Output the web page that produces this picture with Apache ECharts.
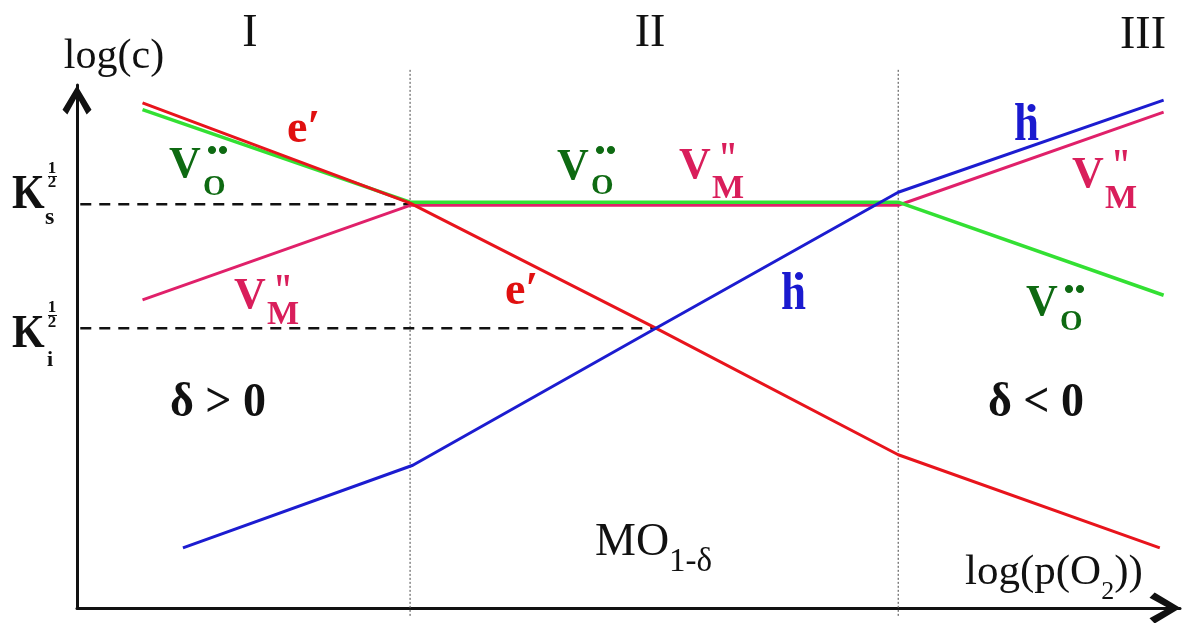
<!DOCTYPE html>
<html><head><meta charset="utf-8">
<script src="https://cdn.jsdelivr.net/npm/echarts@6/dist/echarts.min.js"></script>
<style>html,body{margin:0;padding:0;background:#fff}#c{width:1182px;height:623px}</style>
</head><body><div id="c"></div>
<script>
// ---- data (x: log p(O2), y: log c, arbitrary units) ----
const regionBounds = [6.1, 15.04];
const regionNames = ['I', 'II', 'III'];
const electrons   = [[1.2, 9.66], [6.1, 7.74], [10.6, 5.35], [15.04, 2.93], [19.83, 1.15]];
const holes       = [[1.94, 1.15], [6.15, 2.73], [10.6, 5.35], [15.04, 7.95], [19.9, 9.71]];
const oxygenVac   = [[1.2, 9.53], [6.1, 7.76], [15.04, 7.76], [19.9, 5.98]];
const metalVac    = [[1.2, 5.89], [6.1, 7.70], [15.04, 7.70], [19.9, 9.48]];
const ksLevel = 7.72;
const kiLevel = 5.35;
const ksExtent = [0.06, 6.1];
const kiExtent = [0.06, 10.6];
const boundaryExtent = [-0.15, 10.29];
const xRange = [0, 20.2];
const yRange = [0, 10];

// ---- styles ----
const SERIF = '"Liberation Serif","Times New Roman",serif';
const C = {red: '#e8141c', green: '#33e033', mag: '#e0206a', blue: '#1c1cd0',
           redT: '#e01010', greenT: '#0e6a12', magT: '#d91e5b', blueT: '#1a1acf', ink: '#111'};
const mctx = document.createElement('canvas').getContext('2d');
function fontStr(size, bold) { return (bold ? 'bold ' : '') + size + 'px ' + SERIF; }
function tw(text, size, bold) { mctx.font = fontStr(size, bold); return mctx.measureText(text).width; }
function T(text, x, y, size, color, opt) {
  opt = opt || {};
  return {type: 'text', x: x, y: y, scaleY: opt.sy || 1, z: 100, silent: true,
    style: {text: text, font: fontStr(size, opt.bold), fill: color,
      textAlign: opt.align || 'left', textVerticalAlign: 'middle'}};
}
function L(x1, y1, x2, y2, w) {
  return {type: 'line', z: 100, silent: true, shape: {x1: x1, y1: y1, x2: x2, y2: y2}, style: {stroke: C.ink, lineWidth: w}};
}
const B = {bold: true};
const g = [];
// region names
g.push(T(regionNames[0], 250, 34, 46, C.ink, {align: 'center'}));
g.push(T(regionNames[1], 650, 34, 46, C.ink, {align: 'center'}));
g.push(T(regionNames[2], 1143, 36, 46, C.ink, {align: 'center'}));
// axis titles
g.push(T('log(c)', 114, 57, 42, C.ink, {align: 'center'}));
(function () {
  let x = 965;
  g.push(T('log(p(O', x, 573, 43, C.ink)); x += tw('log(p(O', 43);
  g.push(T('2', x, 592, 26, C.ink)); x += tw('2', 26);
  g.push(T('))', x, 573, 43, C.ink));
})();
// K labels
g.push(T('K', 12, 196, 42, C.ink, {bold: true, sy: 1.15}));
g.push(T('s', 45, 218, 24, C.ink, B));
g.push(T('1', 52, 169, 17, C.ink, {bold: true, align: 'center'}));
g.push(T('2', 52, 183, 17, C.ink, {bold: true, align: 'center'}));
g.push(L(48, 176.5, 57, 176.5, 1));
g.push(T('K', 12, 335, 42, C.ink, {bold: true, sy: 1.08}));
g.push(T('i', 47, 360, 22, C.ink, B));
g.push(T('1', 52, 308, 17, C.ink, {bold: true, align: 'center'}));
g.push(T('2', 52, 322.5, 17, C.ink, {bold: true, align: 'center'}));
g.push(L(48, 315.5, 57, 315.5, 1));
// V_O labels
function VO(x, yV, yO, yD) {
  g.push(T('V', x, yV, 44, C.greenT, B));
  g.push(T('O', x + 34, yO, 29, C.greenT, B));
  g.push(T('•', x + 43, yD, 30, C.greenT, {bold: true, align: 'center'}));
  g.push(T('•', x + 54, yD, 30, C.greenT, {bold: true, align: 'center'}));
}
VO(169, 166, 188, 152);
VO(557, 168, 187, 152);
VO(1026, 304, 322.5, 291);
// V_M labels
function VM(x, yV, yQ, yM) {
  g.push(T('V', x, yV, 44, C.magT, B));
  g.push(T('"', x + 39, yQ, 36, C.magT, {bold: true, sy: 1.3}));
  g.push(T('M', x + 33, yM, 34, C.magT, B));
}
VM(234, 297, 294, 315);
VM(679, 167, 162, 189);
VM(1072, 176, 169, 199);
// e' labels
g.push(T('e\u2032', 287, 130, 46, C.redT, B));
g.push(T('e\u2032', 505, 292, 46, C.redT, B));
// h labels
g.push(T('h', 781, 296, 45, C.blueT, {bold: true, sy: 1.15}));
g.push(T('•', 799, 278, 30, C.blueT, {bold: true, align: 'center'}));
g.push(T('h', 1014, 127, 45, C.blueT, {bold: true, sy: 1.15}));
g.push(T('•', 1031.5, 110, 30, C.blueT, {bold: true, align: 'center'}));
// delta labels
g.push(T('δ > 0', 218, 404, 46, C.ink, {bold: true, align: 'center', sy: 1.05}));
g.push(T('δ < 0', 1036, 404, 46, C.ink, {bold: true, align: 'center', sy: 1.05}));
// MO_{1-δ}
(function () {
  const x = 595;
  g.push(T('MO', x, 543, 46, C.ink));
  g.push(T('1-δ', x + tw('MO', 46), 562, 33, C.ink));
})();

const arrowPath = 'path://M15,0 L30,25 L25,30 L15,12 L5,30 L0,25 Z';
function lineSeries(name, data, color, width, z, type) {
  return {name: name, type: 'line', data: data, symbol: 'none', smooth: false, clip: false, z: z,
    lineStyle: {color: color, width: width, type: type || 'solid'}, emphasis: {disabled: true}};
}
const option = {
  animation: false,
  backgroundColor: '#fff',
  grid: {left: 77, right: 2, top: 85, bottom: 15, containLabel: false},
  xAxis: {type: 'value', min: xRange[0], max: xRange[1],
    axisLine: {show: true, onZero: false, symbol: ['none', arrowPath], symbolSize: [31, 31], symbolOffset: [0, -15],
      lineStyle: {color: C.ink, width: 3}},
    axisTick: {show: false}, axisLabel: {show: false}, splitLine: {show: false}},
  yAxis: {type: 'value', min: yRange[0], max: yRange[1],
    axisLine: {show: true, onZero: false, symbol: ['none', arrowPath], symbolSize: [29, 30], symbolOffset: [0, -15],
      lineStyle: {color: C.ink, width: 3}},
    axisTick: {show: false}, axisLabel: {show: false}, splitLine: {show: false}},
  series: [
    lineSeries('b1', [[regionBounds[0], boundaryExtent[0]], [regionBounds[0], boundaryExtent[1]]], '#666', 1.2, 1, [2, 2]),
    lineSeries('b2', [[regionBounds[1], boundaryExtent[0]], [regionBounds[1], boundaryExtent[1]]], '#666', 1.2, 1, [2, 2]),
    lineSeries('Ks', [[ksExtent[0], ksLevel], [ksExtent[1], ksLevel]], C.ink, 2.5, 2, [11, 8]),
    lineSeries('Ki', [[kiExtent[0], kiLevel], [kiExtent[1], kiLevel]], C.ink, 2.5, 2, [11, 8]),
    lineSeries("V_M''", metalVac, C.mag, 3, 3),
    lineSeries('V_O••', oxygenVac, C.green, 3.5, 4),
    lineSeries("e'", electrons, C.red, 3, 5),
    lineSeries('h•', holes, C.blue, 3, 6)
  ],
  graphic: {elements: g}
};
const chart = echarts.init(document.getElementById('c'), null, {renderer: 'canvas'});
chart.setOption(option);
</script></body></html>
